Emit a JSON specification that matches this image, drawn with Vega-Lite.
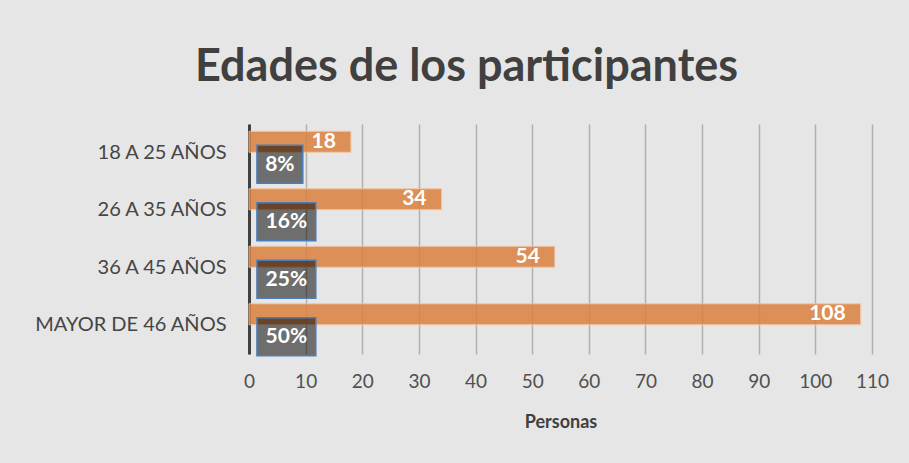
{
  "$schema": "https://vega.github.io/schema/vega-lite/v6.json",
  "autosize": "none",
  "width": 623,
  "height": 230,
  "padding": {"left": 249, "top": 124, "right": 37, "bottom": 109},
  "background": "#e6e6e6",
  "title": {
    "text": "Edades de los participantes",
    "font": "Lato",
    "fontSize": 45,
    "fontWeight": "bold",
    "color": "#404040",
    "anchor": "middle",
    "dx": -94,
    "dy": 38,
    "baseline": "alphabetic",
    "offset": 36
  },
  "config": {
    "view": {"stroke": null},
    "font": "Lato"
  },
  "data": {
    "values": [
      {"grupo": "18 A 25 AÑOS", "personas": 18, "porcentaje": 0.08},
      {"grupo": "26 A 35 AÑOS", "personas": 34, "porcentaje": 0.16},
      {"grupo": "36 A 45 AÑOS", "personas": 54, "porcentaje": 0.25},
      {"grupo": "MAYOR DE 46 AÑOS", "personas": 108, "porcentaje": 0.50}
    ]
  },
  "encoding": {
    "y": {
      "field": "grupo",
      "type": "nominal",
      "sort": null,
      "scale": {"paddingInner": 0, "paddingOuter": 0},
      "axis": {
        "title": null,
        "ticks": false,
        "labelFontSize": 20,
        "labelLimit": 300,
        "labelColor": "#454545",
        "labelPadding": 23,
        "domainColor": "#404040",
        "domainWidth": 3,
        "grid": false
      }
    }
  },
  "layer": [
    {
      "mark": {"type": "bar", "color": "#DB803D", "opacity": 0.85, "stroke": "#f2c49e", "strokeWidth": 1, "height": 21, "yOffset": -11},
      "encoding": {
        "x": {
          "field": "personas",
          "type": "quantitative",
          "scale": {"domain": [0, 110], "nice": false},
          "axis": {
            "values": [0, 10, 20, 30, 40, 50, 60, 70, 80, 90, 100, 110],
            "title": "Personas",
            "titleFontSize": 18,
            "titleFontWeight": "bold",
            "titleColor": "#404040",
            "titlePadding": 22,
            "labelFontSize": 19,
            "labelColor": "#505050",
            "labelPadding": 18,
            "labelOverlap": false,
            "labelFlush": false,
            "ticks": false,
            "domain": false,
            "grid": true,
            "gridColor": "#b0b0b0",
            "gridWidth": 1.5
          }
        }
      }
    },
    {
      "mark": {"type": "text", "align": "right", "dx": -15, "yOffset": -11, "baseline": "middle", "fontSize": 21, "fontWeight": "bold", "color": "white"},
      "encoding": {
        "x": {"field": "personas", "type": "quantitative"},
        "text": {"field": "personas", "type": "quantitative"}
      }
    },
    {
      "transform": [{"filter": "datum.porcentaje < 0.1"}],
      "layer": [
        {
          "mark": {"type": "bar", "fill": "black", "fillOpacity": 0.52, "stroke": "#4A7EBB", "strokeWidth": 1.5, "height": 38, "yOffset": 11.5},
          "encoding": {"x": {"datum": 1.4}, "x2": {"datum": 9.5}}
        },
        {
          "mark": {"type": "text", "align": "center", "baseline": "middle", "yOffset": 12, "fontSize": 21, "fontWeight": "bold", "color": "white"},
          "encoding": {
            "x": {"datum": 5.45},
            "text": {"field": "porcentaje", "type": "quantitative", "format": ".0%"}
          }
        }
      ]
    },
    {
      "transform": [{"filter": "datum.porcentaje >= 0.1"}],
      "layer": [
        {
          "mark": {"type": "bar", "fill": "black", "fillOpacity": 0.52, "stroke": "#4A7EBB", "strokeWidth": 1.5, "height": 38, "yOffset": 11.5},
          "encoding": {"x": {"datum": 1.4}, "x2": {"datum": 11.8}}
        },
        {
          "mark": {"type": "text", "align": "center", "baseline": "middle", "yOffset": 12, "fontSize": 21, "fontWeight": "bold", "color": "white"},
          "encoding": {
            "x": {"datum": 6.6},
            "text": {"field": "porcentaje", "type": "quantitative", "format": ".0%"}
          }
        }
      ]
    }
  ]
}
